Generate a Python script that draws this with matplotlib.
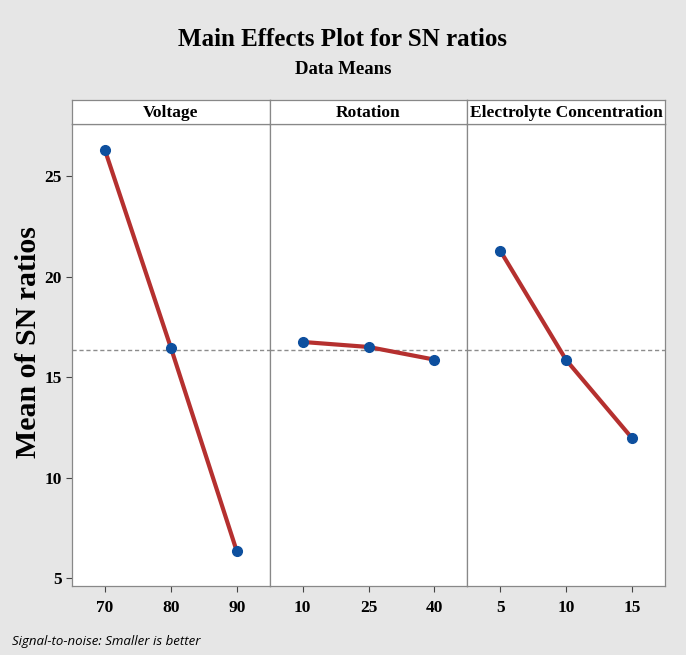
import numpy as np
import matplotlib
matplotlib.use("Agg")
import matplotlib.pyplot as plt

# main effects of each factor on the SN ratio (smaller is better)
factors = ["Voltage", "Rotation", "Electrolyte Concentration"]
levels = [["70", "80", "90"], ["10", "25", "40"], ["5", "10", "15"]]
sn_voltage = [26.30, 16.47, 6.34]
sn_rotation = [16.75, 16.50, 15.87]
sn_electrolyte = [21.29, 15.85, 11.96]
sn_means = [sn_voltage, sn_rotation, sn_electrolyte]

grand_mean = np.mean(sn_voltage)

W, H = 686, 655
fig = plt.figure(figsize=(W / 100, H / 100), dpi=100)
fig.patch.set_facecolor("#e6e6e6")

serif = ["Liberation Serif", "DejaVu Serif"]
left, right = 72 / W, 665 / W
bottom, top, head = 1 - 586 / H, 1 - 124 / H, 1 - 100 / H
pw = (right - left) / 3

fig.text(0.5, 1 - 39 / H, "Main Effects Plot for SN ratios", ha="center", va="center",
         family=serif, weight="bold", size=18)
fig.text(0.5, 1 - 69 / H, "Data Means", ha="center", va="center",
         family=serif, weight="bold", size=13.5)

axes = []
for i, name in enumerate(factors):
    ax = fig.add_axes([left + i * pw, bottom, pw, top - bottom],
                      sharey=axes[0] if axes else None)
    axes.append(ax)
    x = np.arange(3)
    ax.axhline(grand_mean, color="#8c8c8c", lw=1, ls=(0, (3, 2)), zorder=1)
    ax.plot(x, sn_means[i], color="#b5302f", lw=3, zorder=2)
    ax.plot(x, sn_means[i], "o", color="#0d4f9e", ms=7, zorder=3)
    ax.set_xlim(-0.5, 2.5)
    ax.set_xticks(x)
    ax.set_xticklabels(levels[i])
    for s in ax.spines.values():
        s.set_color("#888888")
        s.set_linewidth(0.9)
    ax.tick_params(axis="both", colors="#444444", length=4, width=0.8,
                   labelcolor="black", labelsize=12.5)
    ax.tick_params(axis="x", pad=6)
    for lab in ax.get_xticklabels() + ax.get_yticklabels():
        lab.set_family(serif)
        lab.set_weight("bold")
    if i > 0:
        ax.tick_params(axis="y", left=False, labelleft=False)

    # factor name strip above each panel
    hx = fig.add_axes([left + i * pw, top, pw, head - top])
    hx.set_xticks([])
    hx.set_yticks([])
    for s in hx.spines.values():
        s.set_color("#888888")
        s.set_linewidth(0.9)
    hx.text(0.5, 0.45, name, ha="center", va="center", family=serif,
            weight="bold", size=12.5, transform=hx.transAxes)

axes[0].set_ylim(4.6, 27.6)
axes[0].set_yticks([5, 10, 15, 20, 25])
for lab in axes[0].get_yticklabels():
    lab.set_family(serif)
    lab.set_weight("bold")

fig.text(29 / W, 1 - 342 / H, "Mean of SN ratios", rotation=90, ha="center",
         va="center", family=serif, weight="bold", size=21.5)
fig.text(12 / W, 1 - 641 / H, "Signal-to-noise: Smaller is better", ha="left",
         va="center", family=["Open Sans", "DejaVu Sans"], style="italic", size=9.5)

fig.savefig("out.png", dpi=100, facecolor=fig.get_facecolor())
